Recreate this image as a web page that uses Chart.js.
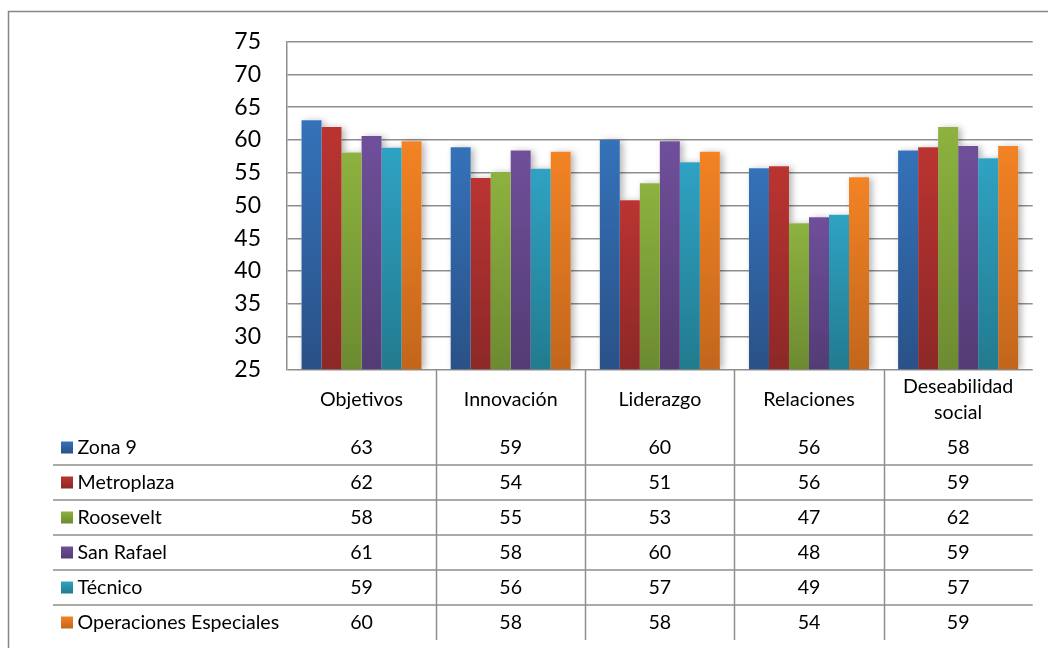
<!DOCTYPE html>
<html><head><meta charset="utf-8">
<script src="https://cdn.jsdelivr.net/npm/chart.js@4"></script>
<style>html,body{margin:0;padding:0;background:#fff;overflow:hidden}#wrap{position:relative;width:1048px;height:648px}canvas{display:block}</style>
</head><body><div id="wrap"><canvas id="c" width="1048" height="648"></canvas></div>
<script>
const categories = ['Objetivos', 'Innovación', 'Liderazgo', 'Relaciones', ['Deseabilidad', 'social']];
const seriesNames = ['Zona 9', 'Metroplaza', 'Roosevelt', 'San Rafael', 'Técnico', 'Operaciones Especiales'];
const zona9       = [63.0, 58.9, 60.0, 55.7, 58.4];
const metroplaza  = [62.0, 54.2, 50.8, 56.0, 58.9];
const roosevelt   = [58.1, 55.1, 53.4, 47.3, 62.0];
const sanRafael   = [60.6, 58.4, 59.8, 48.2, 59.1];
const tecnico     = [58.8, 55.6, 56.6, 48.6, 57.2];
const operaciones = [59.8, 58.2, 58.2, 54.3, 59.1];
const yTickValues = [25, 30, 35, 40, 45, 50, 55, 60, 65, 70, 75];

const seriesValues = [zona9, metroplaza, roosevelt, sanRafael, tecnico, operaciones];
const colorTop    = ['#3472B9', '#BA3431', '#8DB23F', '#6F4F9A', '#2FA2C3', '#F38324'];
const colorBottom = ['#2A5187', '#8C2827', '#6C8B31', '#533C75', '#227B8F', '#C2661C'];

const FONT = 'Lato, "DejaVu Sans", sans-serif';
const GRID = '#8e8e8e';

function barGradient(i) {
  return (ctx) => {
    const chart = ctx.chart;
    if (!chart.chartArea || ctx.type !== 'data') return colorBottom[i];
    const y = chart.scales.y;
    const top = y.getPixelForValue(ctx.raw);
    const base = y.getPixelForValue(y.min);
    const g = chart.ctx.createLinearGradient(0, top, 0, base);
    g.addColorStop(0, colorTop[i]);
    g.addColorStop(1, colorBottom[i]);
    return g;
  };
}

const frame = {
  id: 'frame',
  beforeDraw(chart) {
    const c = chart.ctx;
    c.save();
    c.strokeStyle = '#878787';
    c.lineWidth = 1.5;
    c.beginPath();
    c.moveTo(8.5, 648);
    c.lineTo(8.5, 11.5);
    c.lineTo(1048, 11.5);
    c.stroke();
    c.restore();
  }
};

const barShadow = {
  id: 'barShadow',
  beforeDatasetsDraw(chart) {
    const c = chart.ctx;
    const ca = chart.chartArea;
    c.save();
    c.beginPath();
    c.rect(ca.left, ca.top - 20, ca.right - ca.left + 20, ca.bottom - ca.top + 20);
    c.clip();
    c.shadowColor = 'rgba(0,0,0,0.30)';
    c.shadowBlur = 7;
    c.shadowOffsetX = 3;
    c.shadowOffsetY = 1;
    c.fillStyle = '#ffffff';
    chart.data.datasets.forEach((ds, di) => {
      chart.getDatasetMeta(di).data.forEach(el => {
        const p = el.getProps(['x', 'y', 'width'], true);
        c.fillRect(p.x - p.width / 2, p.y, p.width, ca.bottom - 1 - p.y);
      });
    });
    c.restore();
  }
};

const dataTable = {
  id: 'dataTable',
  afterDraw(chart) {
    const c = chart.ctx;
    const xs = chart.scales.x;
    const ca = chart.chartArea;
    const n = categories.length;
    const step = (ca.right - ca.left) / n;
    const headerMid = 400;
    const rowTop = 430, rowH = 35;
    const tableLeft = 53;
    const bottom = rowTop + rowH * seriesNames.length;
    c.save();
    c.strokeStyle = GRID;
    c.lineWidth = 1.5;
    c.beginPath();
    for (let i = 1; i < n; i++) {
      const x = Math.round(xs.getPixelForValue(i) - step / 2) + 0.5;
      c.moveTo(x, ca.bottom);
      c.lineTo(x, bottom);
    }
    for (let r = 1; r < seriesNames.length; r++) {
      const y = rowTop + r * rowH;
      c.moveTo(tableLeft, y);
      c.lineTo(ca.right, y);
    }
    c.stroke();
    c.fillStyle = '#000';
    c.font = '19.6px ' + FONT;
    c.textAlign = 'center';
    c.textBaseline = 'middle';
    categories.forEach((lab, i) => {
      const x = xs.getPixelForValue(i);
      const lines = Array.isArray(lab) ? lab : [lab];
      const lh = 26;
      lines.forEach((t, k) => {
        c.fillText(t, x, headerMid + (k - (lines.length - 1) / 2) * lh);
      });
    });
    seriesNames.forEach((name, r) => {
      const cy = rowTop + r * rowH + rowH / 2;
      const g = c.createLinearGradient(0, cy - 6, 0, cy + 6);
      g.addColorStop(0, colorTop[r]);
      g.addColorStop(1, colorBottom[r]);
      c.fillStyle = g;
      c.fillRect(61, cy - 6, 12, 12);
      c.fillStyle = '#000';
      c.textAlign = 'left';
      c.fillText(name, 77.5, cy);
      c.textAlign = 'center';
      seriesValues[r].forEach((v, i) => {
        c.fillText(String(Math.round(v)), xs.getPixelForValue(i), cy);
      });
    });
    c.restore();
  }
};

new Chart(document.getElementById('c'), {
  type: 'bar',
  data: {
    labels: categories,
    datasets: seriesNames.map((name, i) => ({
      label: name,
      data: seriesValues[i],
      backgroundColor: barGradient(i),
      borderWidth: 0,
      categoryPercentage: 0.805,
      barPercentage: 1.0
    }))
  },
  options: {
    responsive: false,
    devicePixelRatio: 1,
    animation: false,
    layout: { padding: { left: 0, top: 41.7, right: 15.3, bottom: 278.7 } },
    plugins: { legend: { display: false }, tooltip: { enabled: false } },
    scales: {
      x: { display: false },
      y: {
        min: 25, max: 75,
        afterFit(scale) { scale.width = 287; },
        afterBuildTicks(scale) { scale.ticks = yTickValues.map(v => ({ value: v })); },
        ticks: { padding: 26, color: '#000', font: { family: FONT, size: 23 }, autoSkip: false },
        grid: { color: GRID, lineWidth: 1.5, drawTicks: false },
        border: { display: true, color: GRID, width: 1.5 }
      }
    }
  },
  plugins: [frame, barShadow, dataTable]
});
</script>
</body></html>
